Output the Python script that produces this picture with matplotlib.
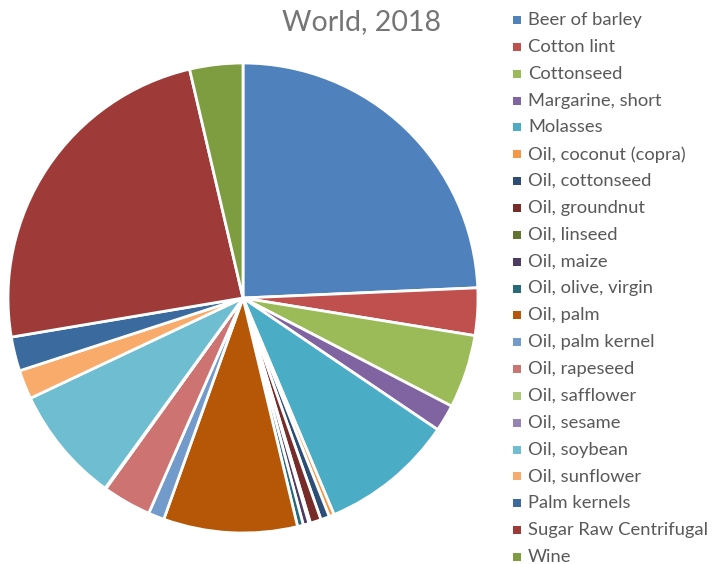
import matplotlib
matplotlib.use("Agg")
import matplotlib.pyplot as plt
from matplotlib.patches import Rectangle

categories = ["Beer of barley", "Cotton lint", "Cottonseed", "Margarine, short", "Molasses",
              "Oil, coconut (copra)", "Oil, cottonseed", "Oil, groundnut", "Oil, linseed",
              "Oil, maize", "Oil, olive, virgin", "Oil, palm", "Oil, palm kernel",
              "Oil, rapeseed", "Oil, safflower", "Oil, sesame", "Oil, soybean",
              "Oil, sunflower", "Palm kernels", "Sugar Raw Centrifugal", "Wine"]
values = [24.3, 3.25, 5.05, 1.85, 9.2,
          0.35, 0.6, 0.75, 0.1,
          0.4, 0.4, 9.2, 1.1,
          3.35, 0.03, 0.03, 8.0,
          2.0, 2.35, 24.0, 3.65]
colors = ["#4F81BD", "#C0504D", "#9BBB59", "#8064A2", "#4BACC6",
          "#F79646", "#2C4D75", "#772C2A", "#5F7530", "#4D3B62",
          "#276A7C", "#B65708", "#729ACA", "#CD7371", "#AFC97A",
          "#9983B5", "#6FBDD1", "#F9AB6B", "#3A6A9E", "#9E3B39", "#7E9D40"]
title = "World, 2018"

W, H = 712, 564
fig = plt.figure(figsize=(W / 100, H / 100), dpi=100)
cx, cy, r = 243, 298, 235
ax = fig.add_axes([(cx - r) / W, (H - cy - r) / H, 2 * r / W, 2 * r / H])
wedges, _ = ax.pie(values, colors=colors, startangle=90, counterclock=False,
                   wedgeprops=dict(edgecolor="white", linewidth=2))
ax.set_xlim(-1, 1)
ax.set_ylim(-1, 1)
ax.set_aspect("equal")
ax.axis("off")

font = "Lato"
fig.text(362 / W, 1 - 22 / H, title, ha="center", va="center", fontsize=20.5,
         color="#757575", family=font)

y0, dy = 20, 26.85
for i, (lab, c) in enumerate(zip(categories, colors)):
    y = y0 + i * dy
    fig.patches.append(Rectangle(((513) / W, 1 - (y + 4) / H), 8 / W, 8 / H,
                                 transform=fig.transFigure, facecolor=c, edgecolor="none"))
    fig.text(528 / W, 1 - y / H, lab, ha="left", va="center", fontsize=13.2,
             color="#595959", family=font)

fig.savefig("out.png", dpi=100)
